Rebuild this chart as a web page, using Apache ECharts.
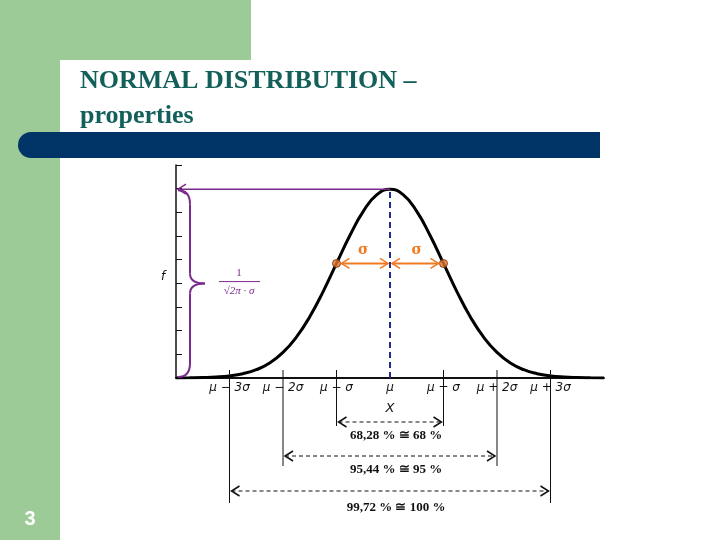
<!DOCTYPE html>
<html><head><meta charset="utf-8">
<script src="https://cdn.jsdelivr.net/npm/echarts@6/dist/echarts.min.js"></script>
<style>html,body{margin:0;padding:0;background:#fff}#c{width:720px;height:540px}</style>
</head><body><div id="c"></div>
<script>
// Normal density f(x), x in units of sigma from mu
const xValues = [-4,-3.75,-3.5,-3.25,-3,-2.75,-2.5,-2.25,-2,-1.75,-1.5,-1.25,-1,-0.75,-0.5,-0.25,0,0.25,0.5,0.75,1,1.25,1.5,1.75,2,2.25,2.5,2.75,3,3.25,3.5,3.75,4];
const fValues = [0.0001,0.0004,0.0009,0.0020,0.0044,0.0091,0.0175,0.0317,0.0540,0.0863,0.1295,0.1826,0.2420,0.3011,0.3521,0.3867,0.3989,0.3867,0.3521,0.3011,0.2420,0.1826,0.1295,0.0863,0.0540,0.0317,0.0175,0.0091,0.0044,0.0020,0.0009,0.0004,0.0001];
const tickLabels = {'-3':'μ − 3σ','-2':'μ − 2σ','-1':'μ − σ','0':'μ','1':'μ + σ','2':'μ + 2σ','3':'μ + 3σ'};
const sigmaPoints = [[-1,0.2420],[1,0.2420]];
const peak = 0.3989;
const ranges = [{k:1,text:'68,28 % ≅ 68 %'},{k:2,text:'95,44 % ≅ 95 %'},{k:3,text:'99,72 % ≅ 100 %'}];
const title1 = 'NORMAL DISTRIBUTION –';
const title2 = 'properties';

const chart = echarts.init(document.getElementById('c'));
chart.setOption({
  animation:false,
  grid:{left:176,right:116,top:165,bottom:162},
  xAxis:{type:'value',min:-4,max:4,interval:1,
    axisLine:{lineStyle:{color:'#111',width:2}},
    axisTick:{show:false},splitLine:{show:false},
    axisLabel:{formatter:v=>tickLabels[String(v)]||'',color:'#111',fontStyle:'italic',fontSize:12,fontFamily:'DejaVu Sans',margin:4}},
  yAxis:{type:'value',min:0,max:0.45,interval:0.05,
    axisLine:{show:true,onZero:false,lineStyle:{color:'#111',width:1.5}},
    axisTick:{show:true,inside:true,length:6,lineStyle:{color:'#111'}},
    splitLine:{show:false},axisLabel:{show:false}},
  series:[
    {type:'line',data:xValues.map((x,i)=>[x,fValues[i]]),smooth:true,symbol:'none',
     lineStyle:{color:'#000',width:3},z:3},
    {type:'line',data:[[0,0],[0,peak]],symbol:'none',lineStyle:{color:'#1f2a8a',width:2,type:[6,4]},z:4},
    {type:'scatter',data:sigmaPoints,symbolSize:8,itemStyle:{color:'#e8782a',borderColor:'#6b2a10',borderWidth:1},z:6}
  ]
});

function P(x,y){return chart.convertToPixel({gridIndex:0},[x,y]);}
const g=[];
function arrowHead(x,y,dir,color){
  g.push({type:'polyline',shape:{points:[[x-dir*8,y-5],[x,y],[x-dir*8,y+5]]},style:{stroke:color,lineWidth:1.5,fill:null},z:10});
}
function seg(x1,y1,x2,y2,color,w,dash){g.push({type:'line',shape:{x1,y1,x2,y2},style:{stroke:color,lineWidth:w,lineDash:dash||null},z:10});}
function bez(x1,y1,cx,cy,x2,y2,color,w){g.push({type:'bezierCurve',shape:{x1,y1,cpx1:cx,cpy1:cy,x2,y2},style:{stroke:color,lineWidth:w,fill:null},z:10});}
// background decorations
g.push({type:'rect',shape:{x:0,y:0,width:60,height:540},style:{fill:'#9ccb98'},z:-10});
g.push({type:'rect',shape:{x:0,y:0,width:251,height:60},style:{fill:'#9ccb98'},z:-10});
g.push({type:'rect',shape:{x:60,y:60,width:200,height:100,r:[22,0,0,0]},style:{fill:'#fff'},z:-9});
g.push({type:'rect',shape:{x:18,y:132,width:582,height:26,r:[13,0,0,13]},style:{fill:'#003366'},z:-8});
g.push({type:'text',x:80,y:68,style:{text:title1,font:'bold 26px "Liberation Serif"',fill:'#13605a'},z:5});
g.push({type:'text',x:80,y:103,style:{text:title2,font:'bold 26px "Liberation Serif"',fill:'#13605a'},z:5});
g.push({type:'text',x:30,y:519,style:{text:'3',font:'bold 20px "Liberation Sans"',fill:'#fff',align:'center',verticalAlign:'middle'},z:5});

// peak arrow and brace
const pk=P(0,peak), o=P(-4,0);
const PU='#7b2a8c';
seg(pk[0],pk[1],o[0]+2,pk[1],PU,1.5);
arrowHead(o[0]+2,pk[1],-1,PU);
const yt=pk[1]+1,yb=o[1]-1,ym=(yt+yb)/2,bx=o[0]+14;
bez(o[0]+2,yt,bx,yt,bx,yt+14,PU,2);
seg(bx,yt+14,bx,ym-10,PU,2);
bez(bx,ym-10,bx,ym,bx+15,ym,PU,2);
bez(bx+15,ym,bx,ym,bx,ym+10,PU,2);
seg(bx,ym+10,bx,yb-14,PU,2);
bez(bx,yb-14,bx,yb,o[0]+2,yb,PU,2);
g.push({type:'text',x:o[0]+63,y:ym-10,style:{text:'1',font:'11px "Liberation Serif"',fill:PU,align:'center',verticalAlign:'middle'},z:10});
seg(o[0]+43,ym-2,o[0]+84,ym-2,PU,1);
g.push({type:'text',x:o[0]+63,y:ym+8,style:{text:'√2π · σ',font:'italic 11px "Liberation Serif"',fill:PU,align:'center',verticalAlign:'middle'},z:10});
g.push({type:'text',x:o[0]-13,y:ym-7,style:{text:'f',font:'italic 12px "DejaVu Sans"',fill:'#111',align:'center',verticalAlign:'middle'},z:10});

// sigma arrows
const OR='#f07a20';
const sl=P(-1,sigmaPoints[0][1]), sr=P(1,sigmaPoints[1][1]), sc=P(0,sigmaPoints[0][1]);
seg(sl[0]+5,sl[1],sc[0]-2,sc[1],OR,2);
seg(sc[0]+2,sc[1],sr[0]-5,sr[1],OR,2);
arrowHead(sl[0]+5,sl[1],-1,OR);arrowHead(sc[0]-2,sc[1],1,OR);
arrowHead(sc[0]+2,sc[1],-1,OR);arrowHead(sr[0]-5,sr[1],1,OR);
[-0.5,0.5].forEach(k=>{const p=P(k,sigmaPoints[0][1]);g.push({type:'text',x:p[0],y:p[1]-13,style:{text:'σ',font:'bold 14px "DejaVu Serif"',fill:OR,align:'center',verticalAlign:'middle'},z:10});});

// x axis ticks and range arrows
[-3,-2,-1,1,2,3].forEach(k=>{const p=P(k,0);seg(p[0],p[1]-8,p[0],p[1]+6,'#111',1);});
const xb=P(0,0);
g.push({type:'text',x:xb[0],y:xb[1]+31,style:{text:'X',font:'italic 13px "DejaVu Sans"',fill:'#111',align:'center',verticalAlign:'middle'},z:10});
const ay=[422,456,491], ty=[436,470,508], ly=[426,466,503];
ranges.forEach((r,i)=>{
  const a=P(-r.k,0), b=P(r.k,0);
  [a,b].forEach(p=>seg(p[0],p[1]+6,p[0],ly[i],'#111',1));
  seg(a[0]+2,ay[i],b[0]-2,ay[i],'#111',1,[4,3]);
  arrowHead(a[0]+2,ay[i],-1,'#111');arrowHead(b[0]-2,ay[i],1,'#111');
  g.push({type:'text',x:xb[0]+6,y:ty[i],style:{text:r.text,font:'bold 13px "Liberation Serif"',fill:'#111',align:'center',verticalAlign:'middle'},z:10});
});
chart.setOption({graphic:{elements:g}});
</script></body></html>
